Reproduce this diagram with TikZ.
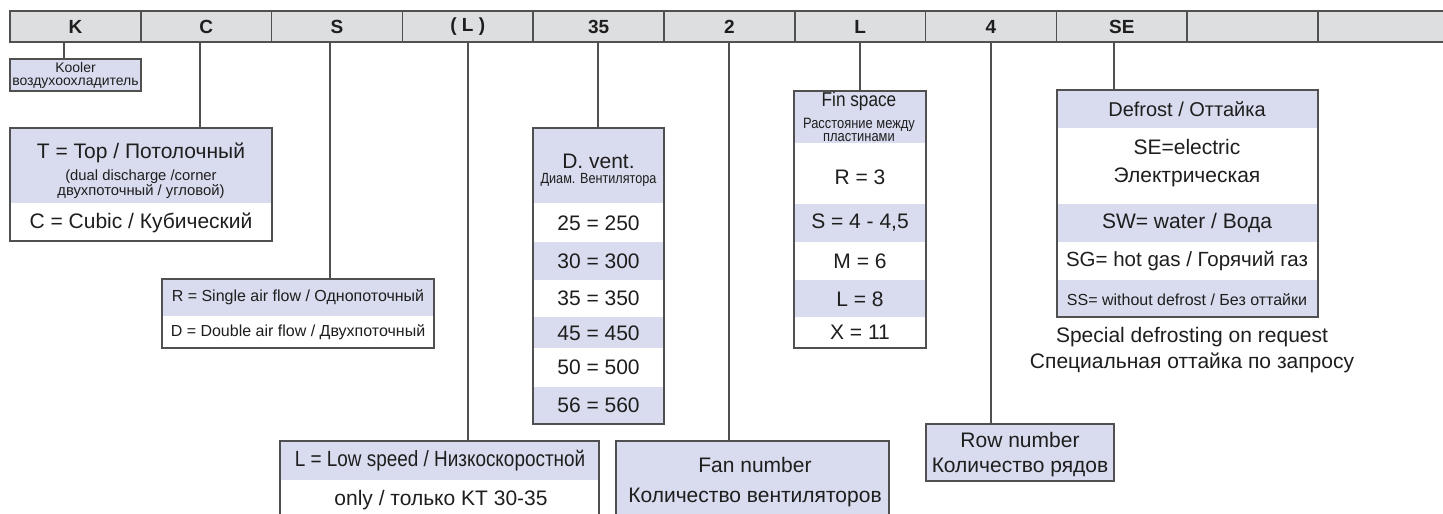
\documentclass[tikz,border=0pt]{standalone}
\usepackage{fontspec}
\setmainfont{Liberation Sans}
\newfontfamily\cond[FakeStretch=0.86]{Liberation Sans}
\definecolor{lav}{RGB}{217,220,238}
\definecolor{barfill}{RGB}{221,222,224}
\definecolor{edge}{RGB}{80,80,80}
\definecolor{ink}{RGB}{30,30,30}
\newcommand{\fs}[2]{\fontsize{#1}{#2}\selectfont}
\tikzset{
  frame/.style={draw=edge, line width=1.1pt, inner sep=0pt, outer sep=0pt, anchor=north west},
  cell/.style={draw=edge, line width=1.6pt, fill=barfill, inner sep=0pt, outer sep=0pt,
    minimum width=130.8pt, minimum height=31pt, anchor=north west, text=ink,
    font=\bfseries\fs{19}{19}},
  band/.style={fill=lav},
  lbl/.style={inner sep=0pt, align=center, text=ink},
  big/.style={lbl, font=\fs{21}{21}},
  conn/.style={draw=edge, line width=1.1pt},
}
\begin{document}
\begin{tikzpicture}[x=1pt,y=-1pt]
\useasboundingbox[fill=white] (0,0) rectangle (1443,514);
\clip (0,0) rectangle (1443,514);
% top code bar
\node[cell] (b1) at (10,11) {K};
\node[cell] (b2) at (140.8,11) {C};
\node[cell] (b3) at (271.6,11) {S};
\node[cell] (b4) at (402.4,11) {( L )};
\node[cell] (b5) at (533.2,11) {35};
\node[cell] (b6) at (664,11) {2};
\node[cell] (b7) at (794.8,11) {L};
\node[cell] (b8) at (925.6,11) {4};
\node[cell] (b9) at (1056.4,11) {SE};
\node[cell] (b10) at (1187.2,11) {};
\node[cell, minimum width=150pt] (b11) at (1318,11) {};

% Kooler
\fill[band] (10,59) rectangle (141,91);
\node[frame, minimum width=131pt, minimum height=32pt] (kooler) at (10,59) {};
\node[lbl, font=\fs{14}{12.5}] (kooler-t) at (75.5,75.5) {Kooler\\воздухоохладитель};

% T / C box
\fill[band] (10,128) rectangle (272,203);
\node[frame, minimum width=262pt, minimum height=113pt] (tbox) at (10,128) {};
\node[big] (t1) at (141,153) {T = Top / Потолочный};
\node[lbl, font=\fs{14.8}{12}] (t2) at (141,184) {(dual discharge /corner\\двухпоточный / угловой)};
\node[big] (t3) at (141,223) {C = Cubic / Кубический};

% R / D box
\fill[band] (162,279) rectangle (434,316);
\node[frame, minimum width=272pt, minimum height=69pt] (rbox) at (162,279) {};
\node[lbl, font=\fs{16}{16}] (r1) at (298,297.5) {R = Single air flow / Однопоточный};
\node[lbl, font=\fs{16}{16}] (r2) at (298,332.5) {D = Double air flow / Двухпоточный};

% D. vent box
\fill[band] (533,128) rectangle (664,203);
\fill[band] (533,242) rectangle (664,280);
\fill[band] (533,317) rectangle (664,348);
\fill[band] (533,387) rectangle (664,424);
\node[frame, minimum width=131pt, minimum height=296pt] (vbox) at (533,128) {};
\node[big] (v0) at (598.5,161) {D. vent.};
\node[lbl, font=\cond\fs{14.7}{14.7}] (v0b) at (598.5,179.5) {Диам. Вентилятора};
\node[big] (v1) at (598.5,223) {25 = 250};
\node[big] (v2) at (598.5,261) {30 = 300};
\node[big] (v3) at (598.5,298.5) {35 = 350};
\node[big] (v4) at (598.5,333) {45 = 450};
\node[big] (v5) at (598.5,367.5) {50 = 500};
\node[big] (v6) at (598.5,405.5) {56 = 560};

% Fin space box
\fill[band] (794,91) rectangle (926,143);
\fill[band] (794,204) rectangle (926,242);
\fill[band] (794,280) rectangle (926,317);
\node[frame, minimum width=132pt, minimum height=257pt] (fbox) at (794,91) {};
\node[lbl, font=\cond\fs{20}{20}] (f0) at (859,101.5) {Fin space};
\node[lbl, font=\cond\fs{15}{12.8}] (f0b) at (859,130) {Расстояние между\\пластинами};
\node[big] (f1) at (860,177) {R = 3};
\node[big] (f2) at (860,223) {S = 4 - 4,5};
\node[big] (f3) at (860,261) {M = 6};
\node[big] (f4) at (860,299) {L = 8};
\node[big] (f5) at (860,332.5) {X = 11};

% Defrost box
\fill[band] (1057,90) rectangle (1318,128);
\fill[band] (1057,204) rectangle (1318,242);
\fill[band] (1057,280) rectangle (1318,317);
\node[frame, minimum width=261pt, minimum height=227pt] (dbox) at (1057,90) {};
\node[lbl, font=\fs{20}{20}] (d0) at (1187,109) {Defrost / Оттайка};
\node[lbl, font=\fs{21}{28}] (d1) at (1187,163) {SE=electric\\Электрическая};
\node[big] (d2) at (1187,223) {SW= water / Вода};
\node[lbl, font=\fs{20.5}{20.5}] (d3) at (1187,261) {SG= hot gas / Горячий газ};
\node[lbl, font=\fs{16}{16}] (d4) at (1187,300) {SS= without defrost / Без оттайки};
\node[lbl, font=\fs{21}{26}] (dnote) at (1192,350) {Special defrosting on request\\Специальная оттайка по запросу};

% L = Low speed box
\fill[band] (280,441) rectangle (599,480);
\node[frame, minimum width=319pt, minimum height=90pt] (lbox) at (280,441) {};
\node[lbl, font=\cond\fs{22}{22}] (l1) at (440,461) {L = Low speed / Низкоскоростной};
\node[big] (l2) at (441,500) {only / только KT 30-35};

% Fan number box
\node[frame, fill=lav, minimum width=273pt, minimum height=90pt] (nbox) at (616,441) {};
\node[lbl, font=\fs{21}{30}] (n1) at (755,482) {Fan number\\Количество вентиляторов};

% Row number box
\node[frame, fill=lav, minimum width=188pt, minimum height=57pt] (rowbox) at (926,424) {};
\node[lbl, font=\fs{21}{25}] (rw1) at (1020,455) {Row number\\Количество рядов};

% connectors
\coordinate (c1) at (64,42);
\coordinate (c2) at (200,42);
\coordinate (c3) at (330,42);
\coordinate (c4) at (468,42);
\coordinate (c5) at (598,42);
\coordinate (c6) at (729,42);
\coordinate (c7) at (860,42);
\coordinate (c8) at (991,42);
\coordinate (c9) at (1114,42);
\draw[conn] (c1) -- (c1 |- kooler.north);
\draw[conn] (c2) -- (c2 |- tbox.north);
\draw[conn] (c3) -- (c3 |- rbox.north);
\draw[conn] (c4) -- (c4 |- lbox.north);
\draw[conn] (c5) -- (c5 |- vbox.north);
\draw[conn] (c6) -- (c6 |- nbox.north);
\draw[conn] (c7) -- (c7 |- fbox.north);
\draw[conn] (c8) -- (c8 |- rowbox.north);
\draw[conn] (c9) -- (c9 |- dbox.north);
\end{tikzpicture}
\end{document}
